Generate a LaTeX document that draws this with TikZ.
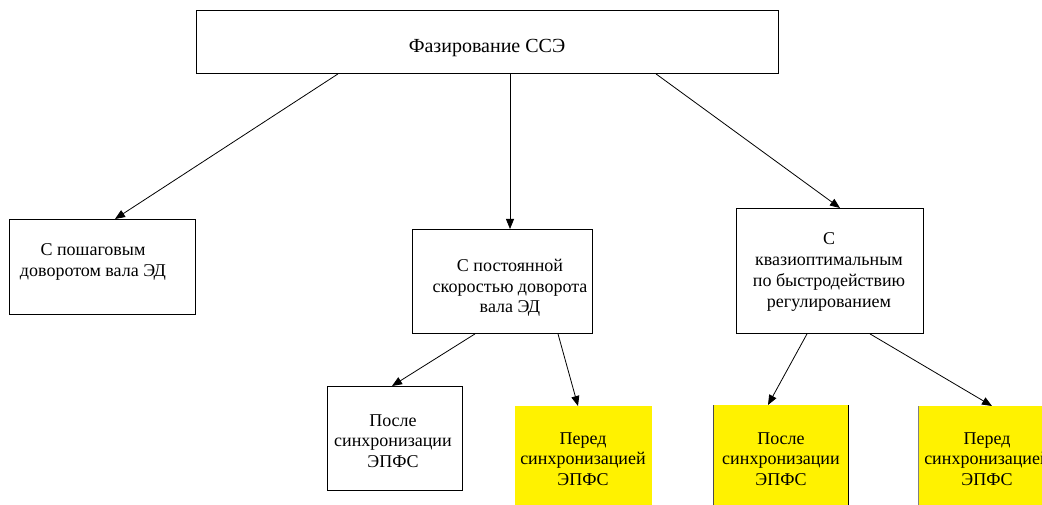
\documentclass[tikz,border=0pt]{standalone}
\usepackage{fontspec}
\setmainfont{LiberationSerif}[Extension=.ttf, UprightFont=*-Regular, BoldFont=*-Bold]
\usetikzlibrary{arrows.meta,calc}
\begin{document}
\begin{tikzpicture}[x=1pt,y=-1pt,
  box/.style={draw=black, line width=0.9pt, inner sep=0pt, anchor=north west},
  hl/.style={fill=yellow, inner sep=0pt, anchor=north west},
  txt/.style={align=center, font=\rmfamily\fontsize{18}{20.7}\selectfont, inner sep=0pt},
  bigtxt/.style={align=center, font=\rmfamily\fontsize{20}{23}\selectfont, inner sep=0pt},
  arr/.style={line width=0.8pt, -{Triangle[length=10pt,width=8pt]}},
  edge/.style={line width=0.9pt}]
\useasboundingbox (0,0) rectangle (1042,505);
\clip (0,0) rectangle (1042,505);
% boxes
\node[box, minimum width=582pt, minimum height=63pt] (top) at (196,10) {};
\node[box, minimum width=186pt, minimum height=95pt] (left) at (9,219) {};
\node[box, minimum width=180pt, minimum height=104pt] (mid) at (412,229) {};
\node[box, minimum width=187pt, minimum height=125pt] (right) at (736,208) {};
\node[box, minimum width=135pt, minimum height=104pt] (bl) at (327,386) {};
\node[hl, minimum width=137pt, minimum height=99pt] (y1) at (515,406) {};
\node[hl, minimum width=135pt, minimum height=100pt] (y2) at (713,405) {};
\node[hl, minimum width=137pt, minimum height=99pt] (y3) at (918,406) {};
\draw[edge, black!70] (y2.north west) -- (y2.south west);
\draw[edge] (y2.north east) -- (y2.south east);
\draw[edge, black!50] (y3.north west) -- (y3.south west);
% texts
\node[bigtxt] (ttop) at (487,48) {Фазирование ССЭ};
\node[txt] (tleft) at (93,262) {С пошаговым\\доворотом вала ЭД};
\node[txt] (tmid) at (510,288) {С постоянной\\скоростью доворота\\вала ЭД};
\node[txt] (tright) at (829,272) {С\\квазиоптимальным\\по быстродействию\\регулированием};
\node[txt] (tbl) at (393,441) {После\\синхронизации\\ЭПФС};
\node[txt] (ty1) at (583,459) {Перед\\синхронизацией\\ЭПФС};
\node[txt] (ty2) at (781,459) {После\\синхронизации\\ЭПФС};
\node[txt] (ty3) at (987,459) {Перед\\синхронизацией\\ЭПФС};
% arrows
\draw[arr] ($(top.south west)+(142,0)$) -- ($(left.north west)+(106,0)$);
\draw[arr] ($(top.south west)+(314,0)$) -- ($(mid.north west)+(98,0)$);
\draw[arr] ($(top.south west)+(460,0)$) -- ($(right.north west)+(104,0)$);
\draw[arr] ($(mid.south west)+(63,0)$) -- ($(bl.north west)+(65,0)$);
\draw[arr] ($(mid.south west)+(146,0)$) -- ($(y1.north west)+(63,0)$);
\draw[arr] ($(right.south west)+(71,0)$) -- ($(y2.north west)+(55,0)$);
\draw[arr] ($(right.south west)+(134,0)$) -- ($(y3.north west)+(74,0)$);
\end{tikzpicture}
\end{document}
